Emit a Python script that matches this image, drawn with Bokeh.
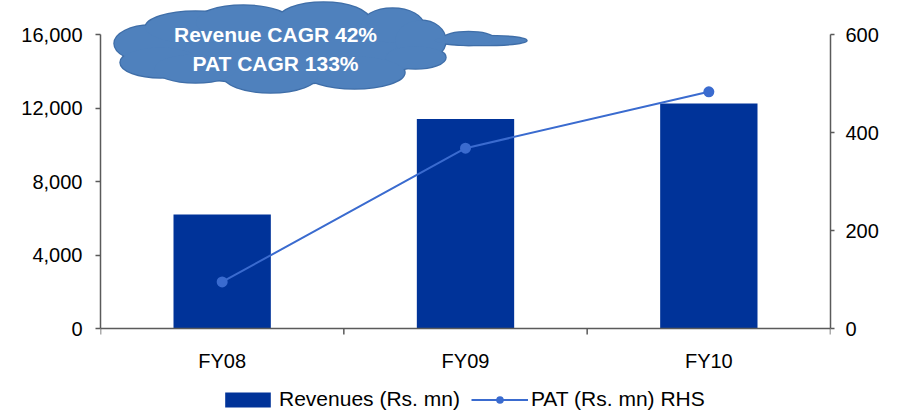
from bokeh.plotting import figure
from bokeh.models import (Range1d, LinearAxis, FixedTicker, NumeralTickFormatter,
                          Legend, LegendItem, Span)
from bokeh.core.properties import value
from bokeh.embed import file_html
from bokeh.resources import INLINE

# ---- data ----
categories = ["FY08", "FY09", "FY10"]
revenues = [6200, 11400, 12250]          # Rs. mn (left axis)
pat = [95, 368, 483]                      # Rs. mn (right axis)
left_ticks = [0, 4000, 8000, 12000, 16000]
right_ticks = [0, 200, 400, 600]
cloud_lines = ["Revenue CAGR 42%", "PAT CAGR 133%"]
legend_labels = ["Revenues (Rs. mn)", "PAT (Rs. mn) RHS"]

LEFT_MAX = 16000
RIGHT_MAX = 600

# ---- layout (pixels) ----
W, H = 897, 412
ML, MR = 100, 67
FRAME_W = W - ML - MR          # 730
ZERO_PX = 328                  # pixel row of the zero line
AXIS_PX = 294                  # pixels from 0 to axis max
y_start = -(H - ZERO_PX) / AXIS_PX * LEFT_MAX
y_end = ZERO_PX / AXIS_PX * LEFT_MAX
y2_start = -(H - ZERO_PX) / AXIS_PX * RIGHT_MAX
y2_end = ZERO_PX / AXIS_PX * RIGHT_MAX

n = len(categories)
xs = [i + 1 for i in range(n)]
x_lo, x_hi = 0.5, n + 0.5
bounds_x = [x_lo + i for i in range(n + 1)]

FONT = "Liberation Sans"
AX_COL = "#5a5a5a"
FS = "20px"

p = figure(width=W, height=H, x_range=Range1d(x_lo, x_hi), y_range=Range1d(y_start, y_end),
           x_axis_location=None, output_backend="svg", toolbar_location=None,
           min_border_left=ML, min_border_right=MR, min_border_top=0, min_border_bottom=0)
p.outline_line_color = None
p.xgrid.visible = False
p.ygrid.visible = False
p.background_fill_color = "white"
p.border_fill_color = "white"
p.extra_y_ranges = {"pat": Range1d(y2_start, y2_end)}

def dx(px):
    return x_lo + (px - ML) / FRAME_W * (x_hi - x_lo)

def dw(px):
    return px / FRAME_W * (x_hi - x_lo)

def dy(py):
    return (ZERO_PX - py) / AXIS_PX * LEFT_MAX

def dh(px):
    return px / AXIS_PX * LEFT_MAX

# left axis
ya = p.yaxis[0]
ya.ticker = FixedTicker(ticks=left_ticks)
ya.formatter = NumeralTickFormatter(format="0,0")
ya.bounds = (0, LEFT_MAX)
ya.major_tick_out = 5
ya.major_tick_in = 0
ya.minor_tick_line_color = None
ya.major_tick_line_color = AX_COL
ya.major_tick_line_width = 1.5
ya.axis_line_color = AX_COL
ya.axis_line_width = 1.5
ya.major_label_standoff = 13
ya.major_label_text_font = FONT
ya.major_label_text_font_size = FS
ya.major_label_text_color = "black"

# right axis
ra = LinearAxis(y_range_name="pat", ticker=FixedTicker(ticks=right_ticks), bounds=(0, RIGHT_MAX))
ra.major_tick_out = 4
ra.major_tick_in = 0
ra.minor_tick_line_color = None
ra.major_tick_line_color = AX_COL
ra.major_tick_line_width = 1.5
ra.axis_line_color = AX_COL
ra.axis_line_width = 1.5
ra.major_label_standoff = 11
ra.major_label_text_font = FONT
ra.major_label_text_font_size = FS
ra.major_label_text_color = "black"
p.add_layout(ra, "right")

# category axis (zero line, boundary ticks, centred labels)
p.add_layout(Span(location=0, dimension="width", line_color=AX_COL, line_width=1.5))
p.segment(x0=bounds_x, y0=[0] * len(bounds_x), x1=bounds_x, y1=[-dh(6)] * len(bounds_x),
          line_color=AX_COL, line_width=1.5)
p.text(x=xs, y=[0] * n, text=categories, y_offset=32,
       text_font=value(FONT), text_font_size=FS, text_color="black",
       text_align="center", text_baseline="middle")

# bars and line
bars = p.vbar(x=xs, top=revenues, width=0.4, fill_color="#003399", line_color=None)
line = p.line(xs, pat, y_range_name="pat", line_color="#3a6bcf", line_width=2)
pts = p.scatter(xs, pat, y_range_name="pat", size=11, fill_color="#3a6bcf", line_color=None)

# ---- cloud callout (decoration; pixel geometry converted to data) ----
lobes = [  # (cx, cy, w, h) in pixels
    (282, 48, 300, 70),
    (150, 43, 72, 36),
    (160, 62, 80, 30),
    (195, 27, 100, 32),
    (243, 22, 95, 34),
    (323, 20, 92, 36),
    (392, 25, 62, 34),
    (420, 40, 50, 40),
    (415, 57, 60, 22),
    (354, 72, 100, 32),
    (270, 74, 95, 36),
    (195, 68, 82, 28),
    (480, 40, 92, 9),
    (468, 38, 50, 13),
]
cx = [dx(l[0]) for l in lobes]
cy = [dy(l[1]) for l in lobes]
cw = [dw(l[2]) for l in lobes]
chh = [dh(l[3]) for l in lobes]
p.ellipse(x=cx, y=cy, width=cw, height=chh, fill_color="#3f6ea8", line_color="#3f6ea8", line_width=2.5)
p.ellipse(x=cx, y=cy, width=cw, height=chh, fill_color="#4f81bd", line_color=None)

p.text(x=[dx(275), dx(275)], y=[dy(34), dy(63)], text=cloud_lines,
       text_color="white", text_font=value(FONT), text_font_style="bold",
       text_font_size="21px", text_align="center", text_baseline="middle")

# legend below the chart area
legend = Legend(items=[LegendItem(label=legend_labels[0], renderers=[bars]),
                       LegendItem(label=legend_labels[1], renderers=[line, pts])],
                orientation="horizontal", location=(119, 1),
                glyph_width=57, glyph_height=19, label_standoff=3, spacing=11,
                padding=0, margin=0, border_line_color=None, background_fill_alpha=0,
                label_text_font=FONT, label_text_font_size="21px", label_text_color="black")
p.add_layout(legend, "center")

open("out.html", "w").write(file_html(p, INLINE))
